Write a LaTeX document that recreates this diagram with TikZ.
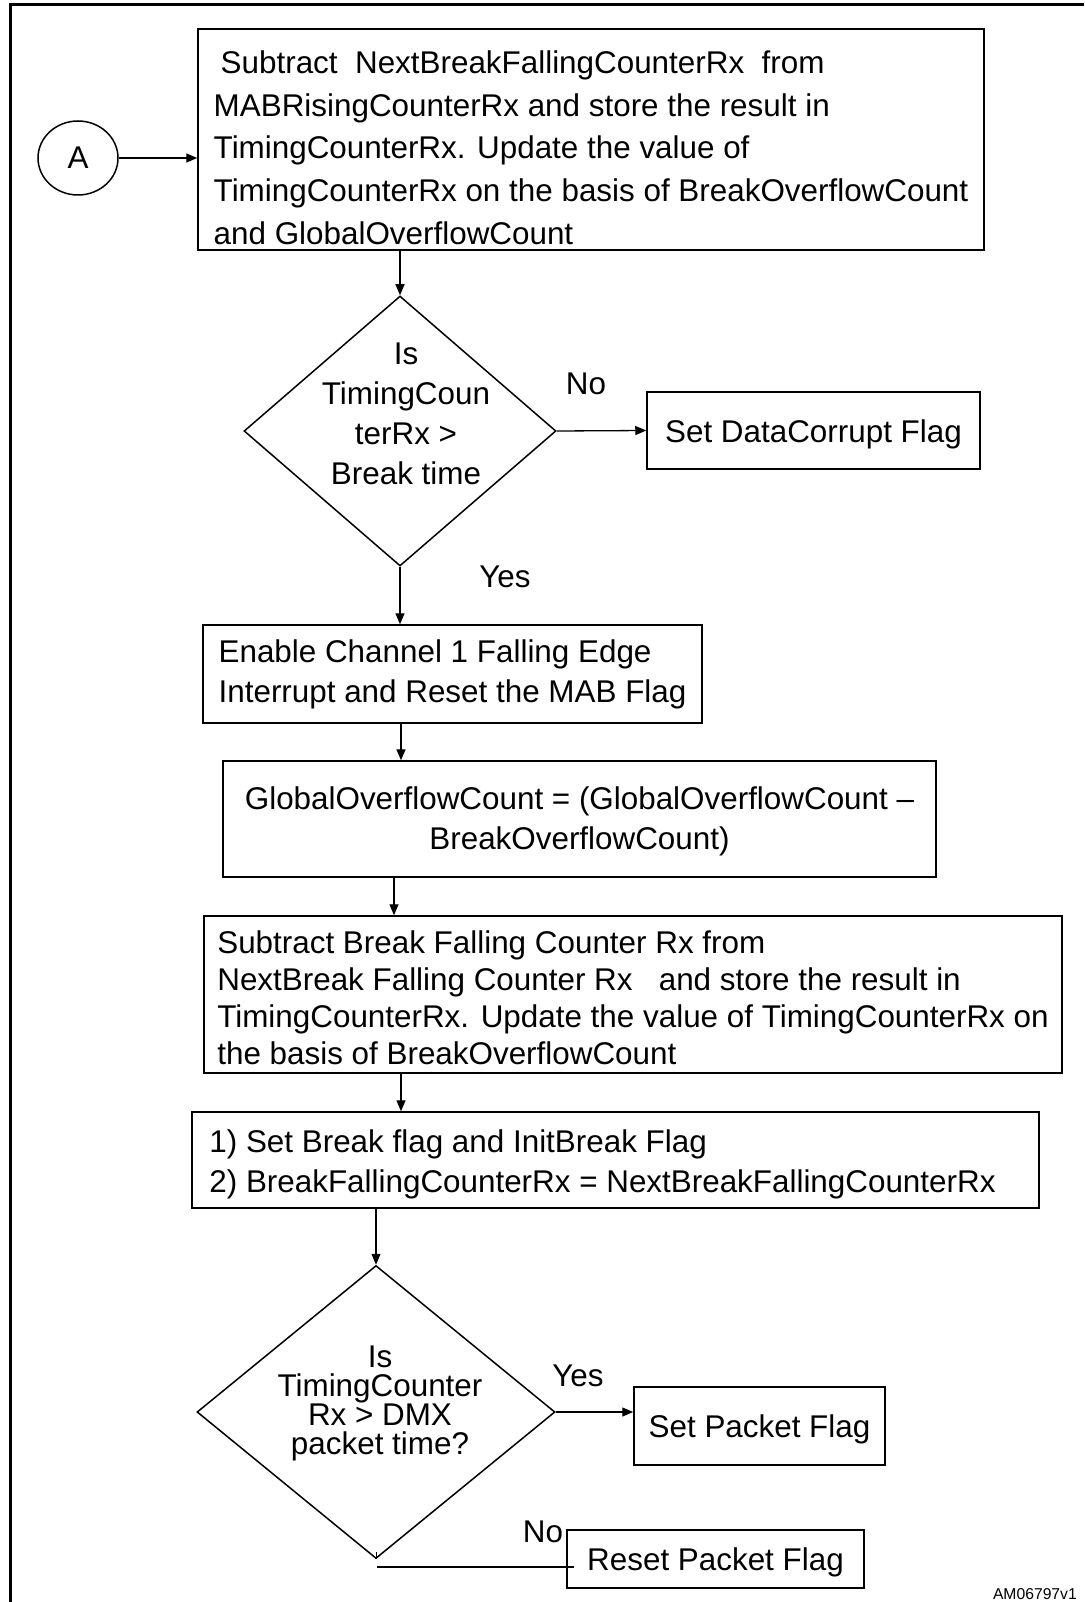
\documentclass[tikz,border=0pt]{standalone}
\usepackage{fontspec}
\setmainfont{Liberation Sans}
\usetikzlibrary{arrows.meta,shapes.geometric,calc}
\newcommand\lift[1]{\rule{0pt}{#1}}
\begin{document}
\begin{tikzpicture}[x=1pt,y=-1pt,
  box/.style={draw, line width=1.5pt, inner sep=0pt, align=left},
  fnt/.style={font=\fontsize{31.4}{#1}\selectfont},
  dia/.style={draw, diamond, line width=1.5pt, inner sep=0pt},
  lbl/.style={inner sep=0pt, font=\fontsize{31.4}{37}\selectfont},
  arr/.style={-{Triangle[length=11pt,width=9pt]}, line width=1.3pt},
  conn/.style={line width=1.3pt}
]
\useasboundingbox (0,0) rectangle (1084,1602);
\fill[white] (0,0) rectangle (1084,1602);
% frame (cropped: top and left edges only)
\draw[line width=3pt] (10,1602) -- (10,5) -- (1084,5);

% start connector
\node[draw, ellipse, line width=1.5pt, minimum width=80pt, minimum height=74pt, inner sep=0pt,
      font=\fontsize{31.4}{37}\selectfont] (A) at (78,158) {A};

% boxes
\node[box, fnt=42.75, minimum width=786pt, minimum height=221pt] (top) at (591,139.5)
 {\lift{39pt}\hspace*{7pt}Subtract\ \ NextBreakFallingCounterRx\ \ from\\
  MABRisingCounterRx and store the result in\\
  TimingCounterRx. Update the value of\\
  TimingCounterRx on the basis of BreakOverflowCount\\
  and GlobalOverflowCount};

\node[dia, minimum width=312pt, minimum height=270pt] (d1) at (400,431) {};
\node[lbl, align=center, fnt=40] (d1t) at (406,414)
 {Is\\TimingCoun\\terRx >\\Break time};

\node[box, fnt=40, minimum width=333pt, minimum height=77pt] (dc) at (813.5,430.5)
 {\lift{31pt}Set DataCorrupt Flag};

\node[box, fnt=40, minimum width=499pt, minimum height=98pt] (b2) at (452.5,674)
 {Enable Channel 1 Falling Edge\\
  Interrupt and Reset the MAB Flag};

\node[box, align=center, fnt=40, minimum width=713pt, minimum height=116pt] (b3) at (579.5,819)
 {\lift{27pt}GlobalOverflowCount = (GlobalOverflowCount --\\
  BreakOverflowCount)};

\node[box, fnt=37, minimum width=858pt, minimum height=157pt] (b4) at (633,994.5)
 {\lift{30pt}Subtract Break Falling Counter Rx from\\
  NextBreak Falling Counter Rx\ \ \ and store the result in\\
  TimingCounterRx. Update the value of TimingCounterRx on\\
  the basis of BreakOverflowCount};

\node[box, fnt=39.5, minimum width=847pt, minimum height=96pt] (b5) at (615.5,1160)
 {\lift{31pt}1) Set Break flag and InitBreak Flag\\
  2) BreakFallingCounterRx = NextBreakFallingCounterRx\hspace*{26pt}};

\node[dia, minimum width=358pt, minimum height=293pt] (d2) at (376,1412) {};
\node[lbl, align=center, fnt=29] (d2t) at (380,1403)
 {Is\\TimingCounter\\Rx > DMX\\packet time?};

\node[box, fnt=40, minimum width=251pt, minimum height=78pt] (sp) at (759.5,1426)
 {\lift{30pt}Set Packet Flag};

\node[box, fnt=40, minimum width=297pt, minimum height=58pt] (rp) at (715.5,1559)
 {\lift{30pt}Reset Packet Flag};

% labels
\node[lbl] (no1) at (586,384) {No};
\node[lbl] (yes1) at (505,577) {Yes};
\node[lbl] (yes2) at (578,1376) {Yes};
\node[lbl] (no2) at (543,1532) {No};
\node[inner sep=0pt, anchor=base east, font=\fontsize{15.7}{18}\selectfont] (id) at (1077,1599) {AM06797v1};

% connectors
\draw[arr] (A.east) -- (A.east -| top.west);
\draw[arr] (d1.north |- top.south) -- (d1.north);
\draw[arr] (d1.east) -- (dc.west);
\draw[arr] (d1.south) -- (d1.south |- b2.north);
\draw[arr] (401,0 |- b2.south) -- (401,0 |- b3.north);
\draw[arr] (394,0 |- b3.south) -- (394,0 |- b4.north);
\draw[arr] (401,0 |- b4.south) -- (401,0 |- b5.north);
\draw[arr] (d2.north |- b5.south) -- (d2.north);
\draw[arr] (d2.east) -- (d2.east -| sp.west);
\coordinate (n2) at (377,1567);
\draw[conn] (n2) -- ($(n2 -| rp.west)+(8,0)$);
\draw[line width=1pt] (d2.south) -- ++(0,-7);
\end{tikzpicture}
\end{document}
